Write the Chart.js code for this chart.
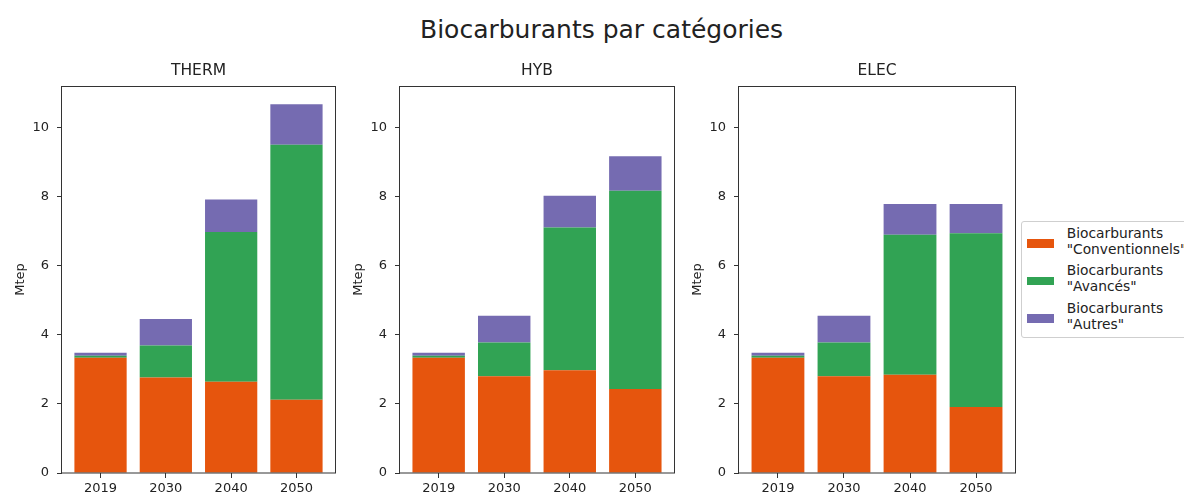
<!DOCTYPE html>
<html><head><meta charset="utf-8">
<script src="https://cdn.jsdelivr.net/npm/chart.js@4"></script>
<style>
body{margin:0;width:1184px;height:494px;overflow:hidden;background:#fff;position:relative;font-family:'DejaVu Sans',sans-serif;}
canvas{position:absolute;}
#sup{position:absolute;left:420px;top:17px;font-size:25px;line-height:25px;color:#222;white-space:nowrap;}
#legend{position:absolute;left:1021px;top:221px;width:200px;height:117px;border:1px solid #cfcfcf;border-radius:3px;box-sizing:border-box;padding-top:2.5px;font-size:13.8px;color:#222;}
.entry{position:relative;height:32px;margin-bottom:5.7px;}
.patch{position:absolute;left:4.7px;top:14.5px;width:27.6px;height:8.5px;}
.lab{position:absolute;left:44.7px;top:0;line-height:16px;white-space:pre;}
</style></head>
<body>
<div id="sup">Biocarburants par catégories</div>
<canvas id="c0" width="337" height="432" style="left:0px;top:62px"></canvas>
<canvas id="c1" width="338" height="432" style="left:338px;top:62px"></canvas>
<canvas id="c2" width="340" height="432" style="left:677px;top:62px"></canvas>
<div id="legend"></div>
<script>
const categories = ['2019', '2030', '2040', '2050'];
const panelTitles = ['THERM', 'HYB', 'ELEC'];
const seriesNames = ['Biocarburants\n"Conventionnels"', 'Biocarburants\n"Avancés"', 'Biocarburants\n"Autres"'];
const seriesColors = ['#e6550d', '#31a354', '#756bb1'];
const yTicks = [0, 2, 4, 6, 8, 10];

const thermConventionnels = [3.33, 2.76, 2.64, 2.12];
const thermAvances        = [0.06, 0.93, 4.33, 7.37];
const thermAutres         = [0.09, 0.76, 0.94, 1.17];

const hybConventionnels = [3.33, 2.80, 2.97, 2.43];
const hybAvances        = [0.06, 0.97, 4.13, 5.73];
const hybAutres         = [0.09, 0.78, 0.92, 1.00];

const elecConventionnels = [3.33, 2.80, 2.84, 1.91];
const elecAvances        = [0.06, 0.97, 4.05, 5.02];
const elecAutres         = [0.09, 0.78, 0.89, 0.85];

const panelData = [
  [thermConventionnels, thermAvances, thermAutres],
  [hybConventionnels, hybAvances, hybAutres],
  [elecConventionnels, elecAvances, elecAutres]
];

Chart.defaults.font.family = "'DejaVu Sans', sans-serif";
Chart.defaults.color = '#222';

const framePlugin = {
  id: 'frame',
  afterDraw(chart) {
    const a = chart.chartArea, ctx = chart.ctx;
    ctx.save();
    ctx.strokeStyle = '#333';
    ctx.lineWidth = 1;
    ctx.strokeRect(Math.round(a.left) - 0.5, Math.round(a.top) + 0.5, Math.round(a.right - a.left) + 1, Math.round(a.bottom - a.top) - 0.5);
    ctx.restore();
  }
};

panelTitles.forEach((title, p) => {
  const datasets = panelData[p].map((vals, s) => ({
    label: seriesNames[s],
    data: vals.map((v, i) => ({x: i, y: v})),
    backgroundColor: seriesColors[s],
    borderWidth: 0,
    categoryPercentage: 1.0,
    barPercentage: 0.8
  }));
  new Chart(document.getElementById('c' + p), {
    type: 'bar',
    data: {datasets},
    plugins: [framePlugin],
    options: {
      responsive: false,
      animation: false,
      layout: {padding: {left: 0, right: 2, top: 0, bottom: 0}},
      plugins: {
        legend: {display: false},
        tooltip: {enabled: false},
        title: {display: true, text: title, fullSize: false, font: {size: 15.5, weight: 'normal'}, color: '#222', padding: {top: 0, bottom: 5.4}}
      },
      scales: {
        x: {
          type: 'linear', stacked: true, offset: false, min: -0.59, max: 3.59,
          afterBuildTicks: (s) => { s.ticks = categories.map((c, i) => ({value: i})); },
          afterFit: (s) => { s.height = 21; },
          ticks: {callback: (v) => categories[v], font: {size: 13}, color: '#222', padding: 3, maxRotation: 0, autoSkip: false},
          grid: {display: true, drawOnChartArea: false, drawTicks: true, tickLength: 5, color: '#333', offset: false},
          border: {display: false}
        },
        y: {
          stacked: true, min: 0, max: 11.19,
          afterBuildTicks: (s) => { s.ticks = yTicks.map(v => ({value: v})); },
          afterFit: (s) => { s.width = 62; },
          ticks: {font: {size: 13}, color: '#222', padding: 8},
          grid: {display: true, drawOnChartArea: false, drawTicks: true, tickLength: 5, color: '#333'},
          border: {display: false},
          title: {display: true, text: 'Mtep', font: {size: 13}, color: '#222', padding: {top: 13, bottom: 0}}
        }
      }
    }
  });
});

const legend = document.getElementById('legend');
seriesNames.forEach((name, s) => {
  const e = document.createElement('div');
  e.className = 'entry';
  const patch = document.createElement('div');
  patch.className = 'patch';
  patch.style.background = seriesColors[s];
  const lab = document.createElement('div');
  lab.className = 'lab';
  lab.textContent = name;
  e.appendChild(patch); e.appendChild(lab);
  legend.appendChild(e);
});
</script>
</body></html>
